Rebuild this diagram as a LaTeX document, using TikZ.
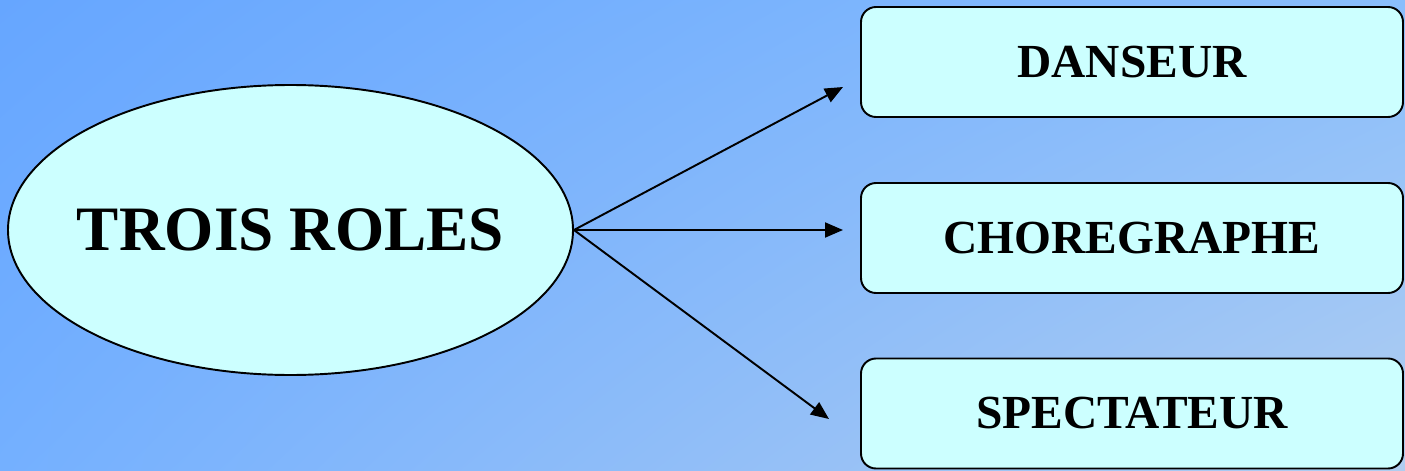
\documentclass[tikz,border=0pt]{standalone}
\usepackage{fontspec}
\setmainfont{Liberation Serif}
\usetikzlibrary{arrows.meta}
\usetikzlibrary{shapes.geometric}
\usetikzlibrary{shadings}
\usepackage{xcolor}
\definecolor{bgul}{RGB}{102,166,255}
\definecolor{bgur}{RGB}{138,190,252}
\definecolor{bgll}{RGB}{116,176,255}
\definecolor{bglr}{RGB}{176,205,240}
\definecolor{cellfill}{RGB}{204,255,255}
\tikzset{
  role/.style={draw=black, line width=1.1pt, fill=cellfill, rounded corners=0.3cm,
    minimum width=10.84cm, minimum height=2.2cm, inner sep=0,
    font=\bfseries\fontsize{27}{30}\selectfont},
  link/.style={black, line width=1.1pt, -{Triangle[length=0.36cm,width=0.3cm]}}
}

\begin{document}
\begin{tikzpicture}
\shade[upper left=bgul, upper right=bgur, lower left=bgll, lower right=bglr] (0,0) rectangle (28.1,9.4);
\useasboundingbox (0,0) rectangle (28.1,9.4);
\node[ellipse, draw=black, line width=1.1pt, fill=cellfill, minimum width=11.3cm, minimum height=5.8cm,
  inner xsep=-0.4cm, inner ysep=0, font=\bfseries\fontsize{36}{40}\selectfont] (trois) at (5.81,4.8) {TROIS ROLES};
\node[role] (danseur) at (22.64,8.16) {DANSEUR};
\node[role] (choreg) at (22.64,4.64) {CHOREGRAPHE};
\node[role] (spect) at (22.64,1.13) {SPECTATEUR};
% free arrow ends
\coordinate (tdanseur) at (16.86,7.66);
\coordinate (tchoreg) at (16.86,4.8);
\coordinate (tspect) at (16.58,1.02);
\foreach \t in {tdanseur,tchoreg,tspect} {
  \draw[link] (trois.east) -- (\t);
}
\end{tikzpicture}
\end{document}
